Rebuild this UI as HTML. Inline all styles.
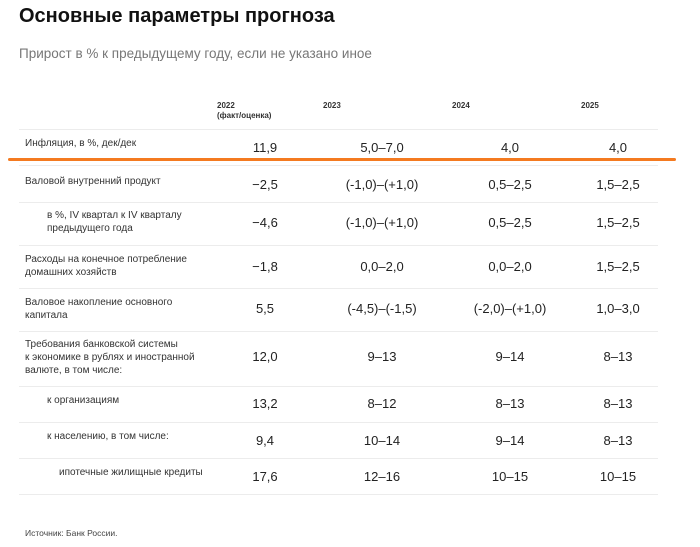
<!DOCTYPE html>
<html><head><meta charset="utf-8">
<style>
body{margin:0;width:700px;height:547px;background:#fff;font-family:"Liberation Sans",sans-serif;color:#222;position:relative;overflow:hidden}
.a{position:absolute;white-space:nowrap}
.t{left:19px;top:5px;font-size:20px;font-weight:bold;color:#111}
.s{left:19px;top:46px;font-size:13.5px;color:#777}
.h{font-size:8px;font-weight:bold;color:#333;line-height:10px}
.l{font-size:10px;color:#333;line-height:13px}
.v{font-size:13px;color:#222;width:120px;text-align:center}
.ln{position:absolute;left:19px;width:639px;height:1px;background:#ececec}
</style></head><body>
<div class="a t">Основные параметры прогноза</div>
<div class="a s">Прирост в % к предыдущему году, если не указано иное</div>
<div>
<div class="a h" style="left:217px;top:101px">2022<br>(факт/оценка)</div>
<div class="a h" style="left:323px;top:101px">2023</div>
<div class="a h" style="left:452px;top:101px">2024</div>
<div class="a h" style="left:581px;top:101px">2025</div>
<div class="ln" style="top:129px"></div>
<div class="ln" style="top:165px"></div>
<div class="ln" style="top:202px"></div>
<div class="ln" style="top:245px"></div>
<div class="ln" style="top:288px"></div>
<div class="ln" style="top:331px"></div>
<div class="ln" style="top:386px"></div>
<div class="ln" style="top:422px"></div>
<div class="ln" style="top:458px"></div>
<div class="ln" style="top:494px"></div>
<div class="a" style="left:8px;top:158px;width:668px;height:3px;background:#f47a20;border-radius:2px"></div>

<div class="a l" style="left:25px;top:137px">Инфляция, в %, дек/дек</div>
<div class="a v" style="left:205px;top:140px">11,9</div><div class="a v" style="left:322px;top:140px">5,0–7,0</div><div class="a v" style="left:450px;top:140px">4,0</div><div class="a v" style="left:558px;top:140px">4,0</div>

<div class="a l" style="left:25px;top:175px">Валовой внутренний продукт</div>
<div class="a v" style="left:205px;top:177px">−2,5</div><div class="a v" style="left:322px;top:177px">(-1,0)–(+1,0)</div><div class="a v" style="left:450px;top:177px">0,5–2,5</div><div class="a v" style="left:558px;top:177px">1,5–2,5</div>

<div class="a l" style="left:47px;top:209px">в %, IV квартал к IV кварталу<br>предыдущего года</div>
<div class="a v" style="left:205px;top:215px">−4,6</div><div class="a v" style="left:322px;top:215px">(-1,0)–(+1,0)</div><div class="a v" style="left:450px;top:215px">0,5–2,5</div><div class="a v" style="left:558px;top:215px">1,5–2,5</div>

<div class="a l" style="left:25px;top:253px">Расходы на конечное потребление<br>домашних хозяйств</div>
<div class="a v" style="left:205px;top:259px">−1,8</div><div class="a v" style="left:322px;top:259px">0,0–2,0</div><div class="a v" style="left:450px;top:259px">0,0–2,0</div><div class="a v" style="left:558px;top:259px">1,5–2,5</div>

<div class="a l" style="left:25px;top:296px">Валовое накопление основного<br>капитала</div>
<div class="a v" style="left:205px;top:301px">5,5</div><div class="a v" style="left:322px;top:301px">(-4,5)–(-1,5)</div><div class="a v" style="left:450px;top:301px">(-2,0)–(+1,0)</div><div class="a v" style="left:558px;top:301px">1,0–3,0</div>

<div class="a l" style="left:25px;top:338px">Требования банковской системы<br>к экономике в рублях и иностранной<br>валюте, в том числе:</div>
<div class="a v" style="left:205px;top:349px">12,0</div><div class="a v" style="left:322px;top:349px">9–13</div><div class="a v" style="left:450px;top:349px">9–14</div><div class="a v" style="left:558px;top:349px">8–13</div>

<div class="a l" style="left:47px;top:394px">к организациям</div>
<div class="a v" style="left:205px;top:396px">13,2</div><div class="a v" style="left:322px;top:396px">8–12</div><div class="a v" style="left:450px;top:396px">8–13</div><div class="a v" style="left:558px;top:396px">8–13</div>

<div class="a l" style="left:47px;top:430px">к населению, в том числе:</div>
<div class="a v" style="left:205px;top:433px">9,4</div><div class="a v" style="left:322px;top:433px">10–14</div><div class="a v" style="left:450px;top:433px">9–14</div><div class="a v" style="left:558px;top:433px">8–13</div>

<div class="a l" style="left:59px;top:466px">ипотечные жилищные кредиты</div>
<div class="a v" style="left:205px;top:469px">17,6</div><div class="a v" style="left:322px;top:469px">12–16</div><div class="a v" style="left:450px;top:469px">10–15</div><div class="a v" style="left:558px;top:469px">10–15</div>
</div>
<div class="a" style="left:25px;top:528px;font-size:8.5px;color:#444">Источник: Банк России.</div>
</body></html>
